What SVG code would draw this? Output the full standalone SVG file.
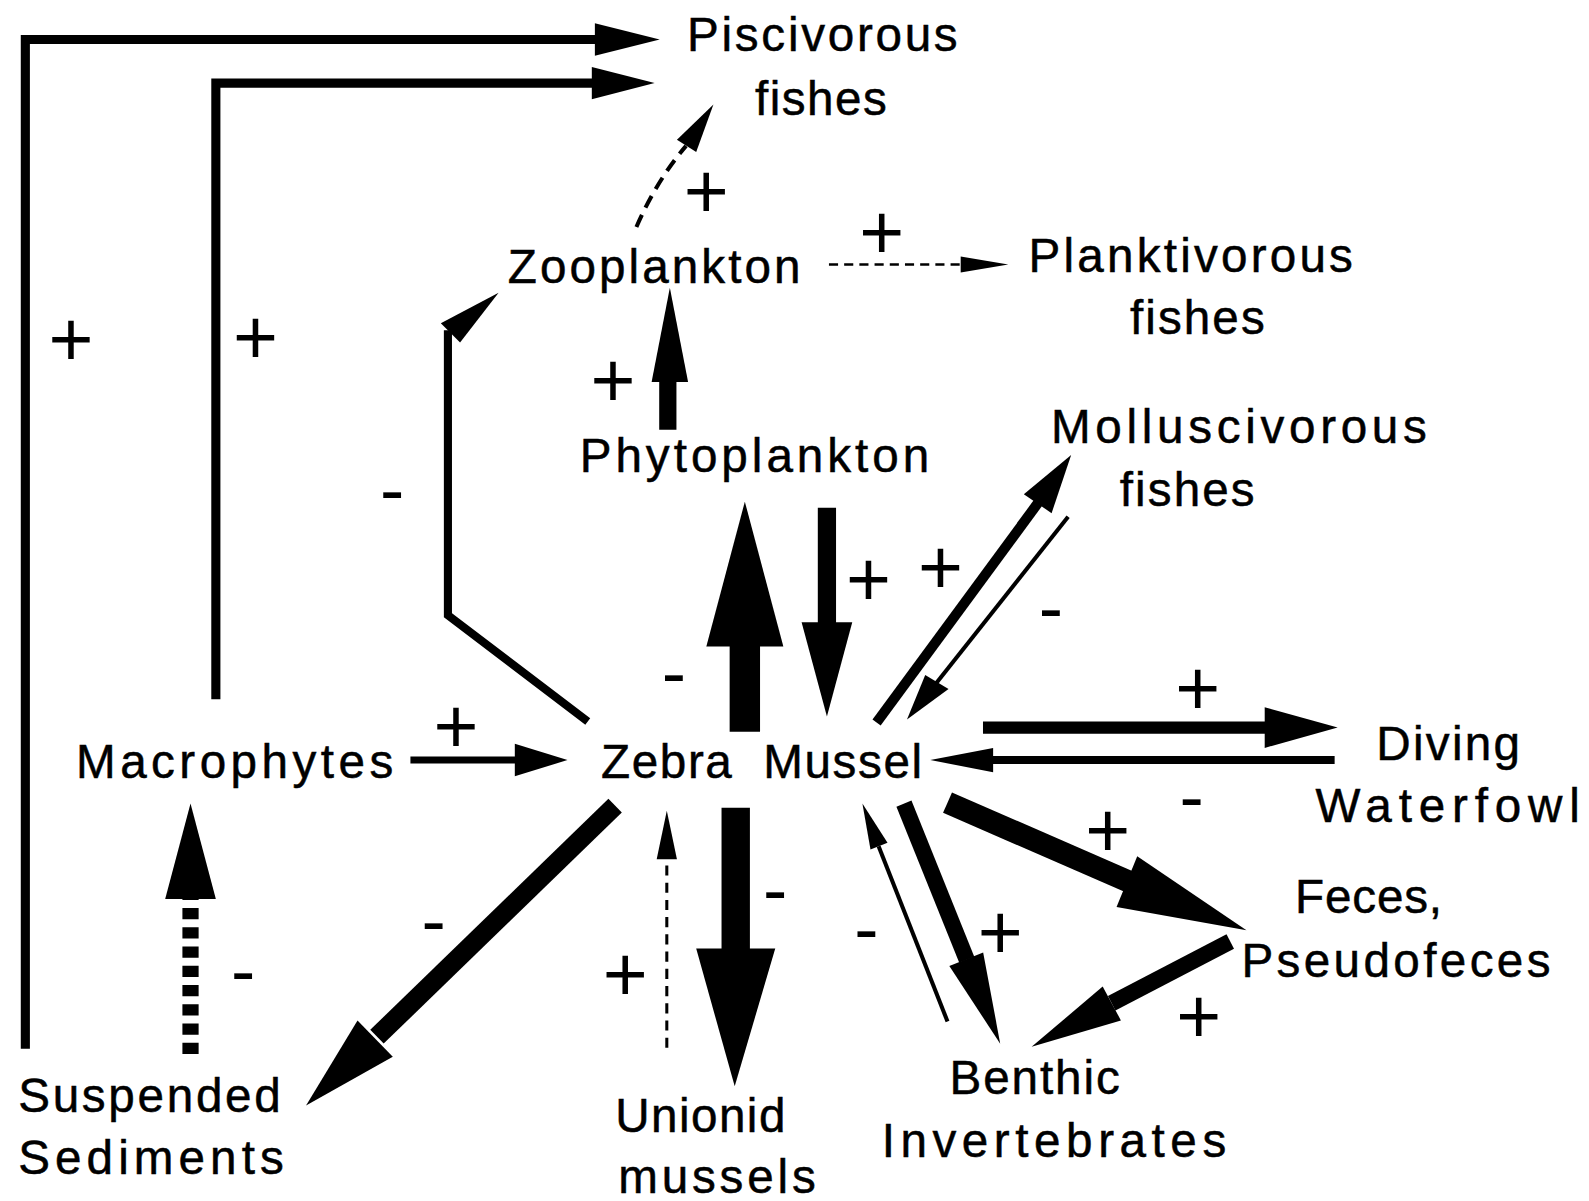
<svg xmlns="http://www.w3.org/2000/svg" width="1589" height="1201" viewBox="0 0 1589 1201">
<style>
text{font-family:"Liberation Sans",Arial,Helvetica,sans-serif;fill:#000}
.lbl{font-size:47px;stroke:#000;stroke-width:0.5}
.plus{font-size:76px;text-anchor:middle}
.minus{font-size:72px;text-anchor:middle}
.ln{fill:none;stroke:#000;stroke-linejoin:miter;stroke-linecap:butt}
.head{fill:#000;stroke:none}
.thin{stroke-width:4}
.dsh{stroke-dasharray:10 7;stroke-width:3}
</style>
<rect width="1589" height="1201" fill="#fff"/>
<g transform="scale(1.01339)">
<g id="connectors">
  <!-- Suspended sediments -> Piscivorous -->
  <polyline class="ln" points="25,1035 25,39 595,39" stroke-width="9"/>
  <polygon class="head" points="651,39 587,23 587,55"/>
  <!-- Macrophytes -> Piscivorous -->
  <polyline class="ln" points="213,690 213,82 592,82" stroke-width="9"/>
  <polygon class="head" points="646,82 584,66 584,98"/>
  <!-- Zooplankton -> Piscivorous (dashed) -->
  <path class="ln" d="M628,224 Q648,178 677,144" stroke-width="4" stroke-dasharray="13 8"/>
  <polygon class="head" points="704,103 687,150 668,138"/>
  <!-- Zooplankton -> Planktivorous (dashed) -->
  <line class="ln" x1="818" y1="261" x2="950" y2="261" stroke-width="2.5" stroke-dasharray="9 6"/>
  <polygon class="head" points="995,261 948,253 948,269"/>
  <!-- Phytoplankton -> Zooplankton -->
  <line class="ln" x1="659" y1="424" x2="659" y2="372" stroke-width="17"/>
  <polygon class="head" points="661,284 643,377 679,377"/>
  <!-- Zebra -> Zooplankton -->
  <polyline class="ln" points="580,712 442,607 442,326" stroke-width="8"/>
  <polygon class="head" points="492,289 454,338 435,319"/>
  <!-- Zebra -> Phytoplankton -->
  <line class="ln" x1="735" y1="722" x2="735" y2="630" stroke-width="30"/>
  <polygon class="head" points="735,495 697,638 773,638"/>
  <!-- Phytoplankton -> Zebra -->
  <line class="ln" x1="816" y1="501" x2="816" y2="620" stroke-width="18"/>
  <polygon class="head" points="816,707 791,614 841,614"/>
  <!-- Macrophytes -> Zebra -->
  <line class="ln" x1="405" y1="750" x2="515" y2="750" stroke-width="7"/>
  <polygon class="head" points="560,750 508,734 508,766"/>
  <!-- Zebra -> Molluscivorous -->
  <line class="ln" x1="865" y1="713" x2="1026" y2="494" stroke-width="10"/>
  <polygon class="head" points="1057,449 1037.7,506.4 1010.3,487.6"/>
  <!-- Molluscivorous -> Zebra -->
  <line class="ln thin" x1="1054" y1="510" x2="924" y2="674"/>
  <polygon class="head" points="895,710 913,666 936,680"/>
  <!-- Zebra -> Diving Waterfowl -->
  <line class="ln" x1="970" y1="718" x2="1255" y2="718" stroke-width="12"/>
  <polygon class="head" points="1320,718 1248,698 1248,738"/>
  <!-- Diving Waterfowl -> Zebra -->
  <line class="ln" x1="1317" y1="750" x2="975" y2="750" stroke-width="8"/>
  <polygon class="head" points="918,750 980,738 980,762"/>
  <!-- Zebra -> Feces -->
  <line class="ln" x1="935" y1="792" x2="1114" y2="870" stroke-width="22"/>
  <polygon class="head" points="1230,918 1101.8,895 1122.2,845"/>
  <!-- Feces -> Benthic -->
  <line class="ln" x1="1214" y1="929" x2="1097" y2="990" stroke-width="16"/>
  <polygon class="head" points="1018,1033 1106.1,1006.9 1088.1,973.5"/>
  <!-- Zebra -> Benthic -->
  <line class="ln" x1="892" y1="793" x2="954" y2="947" stroke-width="16"/>
  <polygon class="head" points="987,1030 936.8,953.2 970.2,939.8"/>
  <!-- Benthic -> Zebra -->
  <line class="ln thin" x1="935" y1="1008" x2="867" y2="835"/>
  <polygon class="head" points="851,793 875.8,831.6 859,838.2"/>
  <!-- Zebra -> Unionid -->
  <line class="ln" x1="726" y1="797" x2="726" y2="940" stroke-width="28"/>
  <polygon class="head" points="725,1072 687,936 765,936"/>
  <!-- Unionid -> Zebra (dashed) -->
  <line class="ln dsh" x1="658" y1="1034" x2="658" y2="845"/>
  <polygon class="head" points="658,800 648,848 668,848"/>
  <!-- Zebra -> Suspended -->
  <line class="ln" x1="607" y1="795" x2="372" y2="1023" stroke-width="19"/>
  <polygon class="head" points="302,1091 387.6,1042.9 352.8,1006.9"/>
  <!-- Suspended -> Macrophytes (dashed) -->
  <line class="ln" x1="188" y1="1040" x2="188" y2="885" stroke-width="16" stroke-dasharray="11 8"/>
  <polygon class="head" points="188,793 163,887 213,887"/>
</g>
<g id="signs">
  <text class="plus" x="70" y="361">+</text>
  <text class="plus" x="252" y="359">+</text>
  <text class="plus" x="697" y="215">+</text>
  <text class="plus" x="870" y="256">+</text>
  <text class="plus" x="605" y="402">+</text>
  <text class="minus" x="387" y="507">-</text>
  <text class="minus" x="665" y="688">-</text>
  <text class="plus" x="857" y="598">+</text>
  <text class="plus" x="928" y="586">+</text>
  <text class="minus" x="1037" y="624">-</text>
  <text class="plus" x="1182" y="706">+</text>
  <text class="minus" x="1176" y="810">-</text>
  <text class="plus" x="450" y="743">+</text>
  <text class="plus" x="1093" y="846">+</text>
  <text class="minus" x="428" y="933">-</text>
  <text class="minus" x="240" y="982">-</text>
  <text class="minus" x="765" y="902">-</text>
  <text class="plus" x="617" y="988">+</text>
  <text class="minus" x="855" y="940">-</text>
  <text class="plus" x="987" y="946">+</text>
  <text class="plus" x="1183" y="1029">+</text>
</g>
<g id="piscivorous">
  <text class="lbl" x="678" y="50" textLength="267" lengthAdjust="spacing">Piscivorous</text>
  <text class="lbl" x="745" y="113" textLength="130" lengthAdjust="spacing">fishes</text>
</g>
<g id="zooplankton">
  <text class="lbl" x="501" y="279" textLength="289" lengthAdjust="spacing">Zooplankton</text>
</g>
<g id="planktivorous">
  <text class="lbl" x="1015" y="268" textLength="320" lengthAdjust="spacing">Planktivorous</text>
  <text class="lbl" x="1115" y="330" textLength="133" lengthAdjust="spacing">fishes</text>
</g>
<g id="phytoplankton">
  <text class="lbl" x="572" y="466" textLength="345" lengthAdjust="spacing">Phytoplankton</text>
</g>
<g id="molluscivorous">
  <text class="lbl" x="1037" y="437" textLength="371" lengthAdjust="spacing">Molluscivorous</text>
  <text class="lbl" x="1105" y="499" textLength="133" lengthAdjust="spacing">fishes</text>
</g>
<g id="macrophytes">
  <text class="lbl" x="75" y="768" textLength="313" lengthAdjust="spacing">Macrophytes</text>
</g>
<g id="zebra-mussel">
  <text class="lbl" x="593" y="768" textLength="317" lengthAdjust="spacing" xml:space="preserve">Zebra  Mussel</text>
</g>
<g id="diving-waterfowl">
  <text class="lbl" x="1358" y="750" textLength="142" lengthAdjust="spacing">Diving</text>
  <text class="lbl" x="1298" y="811" textLength="261" lengthAdjust="spacing">Waterfowl</text>
</g>
<g id="feces">
  <text class="lbl" x="1278" y="901" textLength="145" lengthAdjust="spacing">Feces,</text>
  <text class="lbl" x="1225" y="964" textLength="305" lengthAdjust="spacing">Pseudofeces</text>
</g>
<g id="suspended-sediments">
  <text class="lbl" x="18" y="1097" textLength="259" lengthAdjust="spacing">Suspended</text>
  <text class="lbl" x="18" y="1158" textLength="262" lengthAdjust="spacing">Sediments</text>
</g>
<g id="unionid-mussels">
  <text class="lbl" x="607" y="1117" textLength="168" lengthAdjust="spacing">Unionid</text>
  <text class="lbl" x="610" y="1177" textLength="195" lengthAdjust="spacing">mussels</text>
</g>
<g id="benthic-invertebrates">
  <text class="lbl" x="937" y="1080" textLength="168" lengthAdjust="spacing">Benthic</text>
  <text class="lbl" x="870" y="1142" textLength="340" lengthAdjust="spacing">Invertebrates</text>
</g>
</g>
</svg>
